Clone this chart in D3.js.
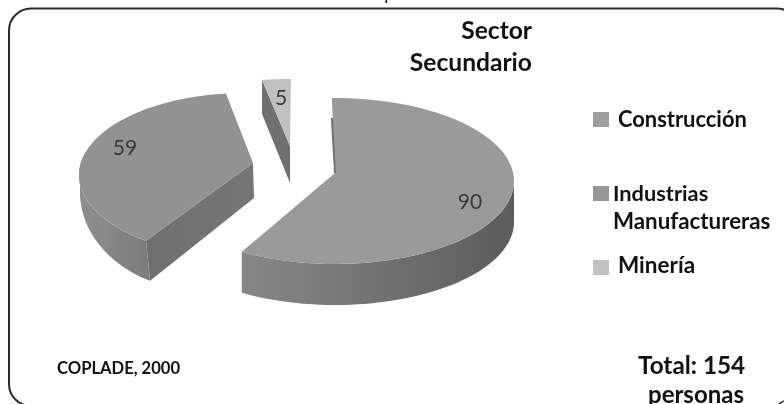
<!DOCTYPE html>
<html><head><meta charset="utf-8">
<script src="https://cdn.jsdelivr.net/npm/d3@7"></script>
<style>html,body{margin:0;padding:0;background:#fff;overflow:hidden}svg{display:block;filter:blur(0.35px)}text{font-family:Lato,"Open Sans",sans-serif}</style>
</head><body>
<script>
const categories = ["Construcción","Industrias Manufactureras","Minería"];
const values = [90,59,5];
const sliceLabels = ["90","59","5"];
const topColors = ["#9a9a9a","#929292","#c0c0c0"];
const legendColors = ["#9e9e9e","#979797","#c2c2c2"];

const W=784,H=404;
const svg=d3.select("body").append("svg").attr("width",W).attr("height",H);
const defs=svg.append("defs");
function grad(id,x1,x2,c1,c2){
  const g=defs.append("linearGradient").attr("id",id).attr("gradientUnits","userSpaceOnUse")
    .attr("x1",x1).attr("x2",x2).attr("y1",0).attr("y2",0);
  g.append("stop").attr("offset",0).attr("stop-color",c1);
  g.append("stop").attr("offset",1).attr("stop-color",c2);
}
grad("gC",243,514,"#878787","#5c5c5c");
grad("gI",80,150,"#8e8e8e","#7c7c7c");
grad("gW",150,255,"#707070","#767676");

// frame
svg.append("rect").attr("x",9).attr("y",8.5).attr("width",790).attr("height",397.5).attr("rx",22)
  .attr("fill","none").attr("stroke","#2c2c2c").attr("stroke-width",2);
svg.append("path").attr("d","M779,404L784,401").attr("stroke","#333").attr("stroke-width",1.5);

const arcs=d3.pie().sort(null).value(d=>d)(values);
// per-slice view: ellipse centre, radii, rotation at both ends (deg), apex, depth
const views=[
 {cx:335,cy:181,rx:179,ry:83,rot0:-1,rot1:1,ax:335,ay:173,depth:41},
 {cx:245,cy:175,rx:166,ry:82,rot0:6.2,rot1:5.1,ax:253,ay:163,depth:40},
 {cx:288,cy:155,rx:166,ry:76,rot0:2.7,rot1:1,ax:290,ay:146,depth:37}
];
const rad=Math.PI/180,pi=Math.PI;
function warp(v,d,a){const f=(a-d.startAngle)/(d.endAngle-d.startAngle);return a+(v.rot0+(v.rot1-v.rot0)*f)*rad;}
function pt(v,t){return [v.cx+v.rx*Math.sin(t),v.cy-v.ry*Math.cos(t)];}
function rim(v,d,a){return pt(v,warp(v,d,a));}
function arcPts(v,d,a0,a1){return d3.range(0,61).map(i=>rim(v,d,a0+(a1-a0)*i/60));}
const line=d3.line();

// Industrias
(function(){
  const a=arcs[1],v=views[1];
  const s=rim(v,a,a.startAngle);
  const corner=[s[0]+4,s[1]+v.depth];
  const wall=[s,[v.ax,v.ay],[v.ax+1,v.ay+v.depth-5],corner];
  svg.append("path").attr("d",line(wall)+"Z").attr("fill","url(#gW)");
  const aEnd=282*rad;
  const outer=arcPts(v,a,a.startAngle,aEnd);
  const low=outer.map((p,i)=>{const f=i/(outer.length-1);return [p[0]+4*(1-f),p[1]+v.depth-(v.depth-6)*Math.pow(f,1.6)];}).reverse();
  svg.append("path").attr("d",line(outer.concat(low))+"Z").attr("fill","url(#gI)");
  svg.append("path").attr("d",line([[v.ax,v.ay]].concat(arcPts(v,a,a.startAngle,a.endAngle)))+"Z").attr("fill",topColors[1]);
})();

// Minería
(function(){
  const a=arcs[2],v=views[2];
  const s=rim(v,a,a.startAngle);
  svg.append("path").attr("d",line([s,[v.ax,v.ay],[v.ax,v.ay+v.depth],[s[0],s[1]+v.depth-3]])+"Z").attr("fill","#707070");
  svg.append("path").attr("d",line([[v.ax,v.ay]].concat(arcPts(v,a,a.startAngle,a.endAngle)))+"Z").attr("fill",topColors[2]);
})();

// Construcción
(function(){
  const a=arcs[0],v=views[0];
  const s=rim(v,a,a.startAngle);
  const outer=arcPts(v,a,pi/2,a.endAngle);
  const low=outer.map(p=>[p[0],p[1]+v.depth]).reverse();
  svg.append("path").attr("d",line(outer.concat(low))+"Z").attr("fill","url(#gC)");
  svg.append("path").attr("d",line([[v.ax,v.ay]].concat(arcPts(v,a,a.startAngle,a.endAngle)))+"Z").attr("fill",topColors[0]);
  svg.append("path").attr("d",line([[s[0],s[1]+20],[v.ax,v.ay]])).attr("stroke","#727272").attr("stroke-width",2).attr("fill","none");
})();

// value labels
const labelPos=[[470,209],[125,155],[281,105]];
svg.selectAll("text.val").data(sliceLabels).join("text").attr("class","val")
  .attr("x",(d,i)=>labelPos[i][0]).attr("y",(d,i)=>labelPos[i][1])
  .attr("text-anchor","middle").attr("font-size",21).attr("fill","#3a3a3a").text(d=>d);

function label(x,y,t,size,anchor,weight,fill){
  return svg.append("text").attr("x",x).attr("y",y).attr("text-anchor",anchor||"start")
   .attr("font-size",size).attr("font-weight",weight||"bold").attr("fill",fill||"#111").text(t);
}
label(532,39,"Sector",24.6,"end");
label(532,71,"Secundario",24.6,"end");
// legend
const legendY=[112,186,260];
svg.selectAll("rect.sw").data(categories).join("rect").attr("class","sw")
 .attr("x",593).attr("y",(d,i)=>legendY[i]).attr("width",16).attr("height",15)
 .attr("fill",(d,i)=>legendColors[i]);
label(618,127,categories[0],21.9);
label(613,201,"Industrias",21.8);
label(613,229,"Manufactureras",22.3);
label(618,273,categories[2],22.5);
label(57,374,"COPLADE, 2000",16.6);
label(638,374,"Total: 154",24.3);
label(648,403,"personas",24);
// clipped text above the frame
label(384,0,"p",20,"start","normal","#222");
</script>
</body></html>
